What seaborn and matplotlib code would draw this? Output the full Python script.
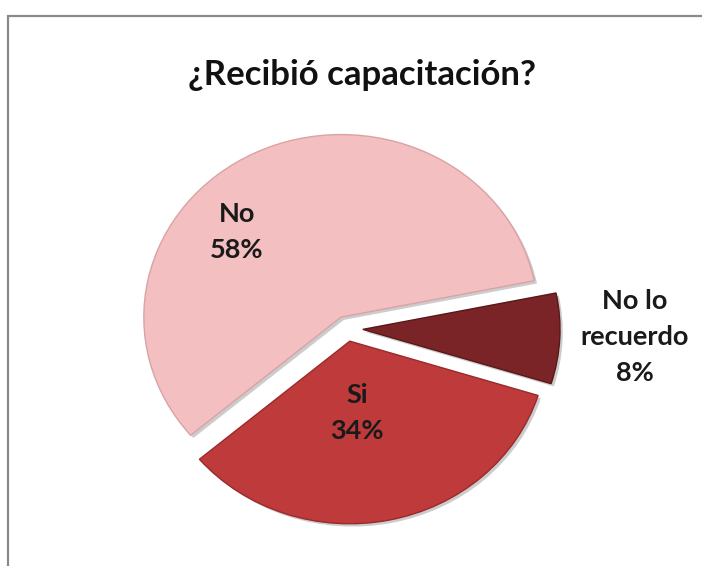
import matplotlib
matplotlib.use("Agg")
import matplotlib.pyplot as plt
import matplotlib.patheffects as pe
from matplotlib.patches import Rectangle
import seaborn as sns

# data
categorias = ["No", "Si", "No lo\nrecuerdo"]
porcentajes = [58, 34, 8]
colores = ["#F3BFC0", "#BE3A3B", "#7A2427"]
bordes = ["#D9A3A4", "#9A2A2B", "#5A1719"]
titulo = "¿Recibió capacitación?"

sns.set_theme(style="white")
plt.rcParams["font.family"] = ["Lato", "DejaVu Sans"]

fig = plt.figure(figsize=(7.02, 5.66), dpi=100)
ax = fig.add_axes([0, 0, 1, 1])

wedges, _ = ax.pie(
    porcentajes,
    colors=colores,
    startangle=11.5,
    counterclock=True,
    explode=[0.07, 0.07, 0.08],
    wedgeprops=dict(linewidth=1.0),
)
for w, b in zip(wedges, bordes):
    w.set_edgecolor(b)
    w.set_path_effects([pe.SimplePatchShadow(offset=(2, -2), shadow_rgbFace="#9a9a9a", alpha=0.5), pe.Normal()])

ax.set_aspect("auto")
ax.set_xlim(-1.76, 1.80)
ax.set_ylim(-1.30, 1.80)
ax.axis("off")

# label positions (data units)
pos_etiquetas = [(-0.56, 0.53), (0.05, -0.46), (1.46, -0.044)]
for cat, val, (x, y) in zip(categorias, porcentajes, pos_etiquetas):
    ax.text(x, y, f"{cat}\n{val}%", ha="center", va="center",
            fontsize=19.5, fontweight="bold", color="#1a1a1a", linespacing=1.6)

fig.text(0.516, 0.867, titulo, ha="center", va="center",
         fontsize=25, fontweight="bold", color="#111111")

# marco gris
fig.patches.append(Rectangle((8 / 702, -0.05), 1.1, (566 - 16) / 566 + 0.05,
                             transform=fig.transFigure, fill=False,
                             edgecolor="#8a8a8a", linewidth=1.6))

fig.savefig("out.png", dpi=100, facecolor="white")
